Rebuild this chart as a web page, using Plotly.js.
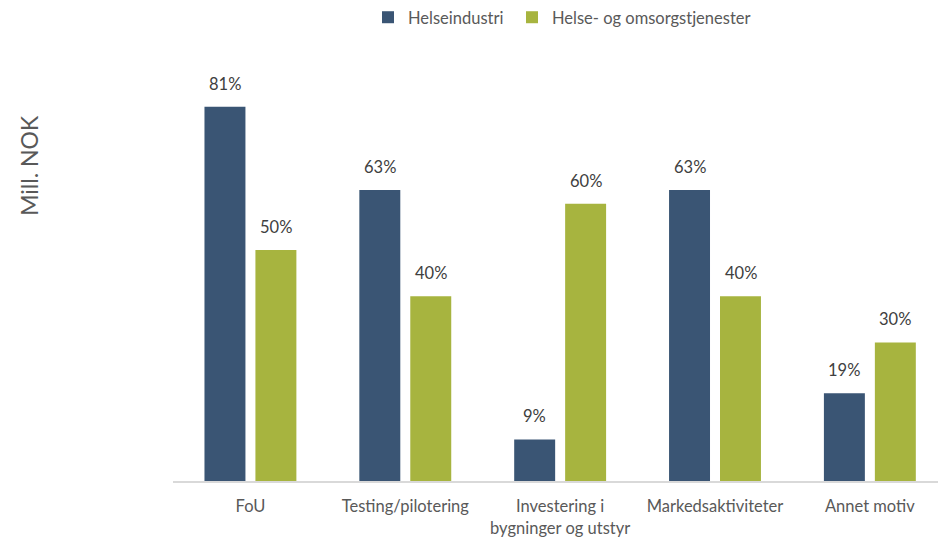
<!DOCTYPE html>
<html>
<head>
<meta charset="utf-8">
<script src="https://cdn.plot.ly/plotly-3.0.1.min.js"></script>
<style>html,body{margin:0;padding:0;background:#fff;}#chart{width:938px;height:539px;}</style>
</head>
<body>
<div id="chart"></div>
<script>
const categories = ["FoU", "Testing/pilotering", "Investering i<br>bygninger og utstyr", "Markedsaktiviteter", "Annet motiv"];
const helseindustri = [81, 63, 9, 63, 19];
const helseOmsorg = [50, 40, 60, 40, 30];
const seriesNames = ["Helseindustri", "Helse- og omsorgstjenester"];
const yTitle = "Mill. NOK";

const FONT = "Lato, 'Open Sans', sans-serif";
const blue = "#3A5574";
const green = "#A7B43F";

const traces = [
  {type: "bar", name: seriesNames[0], x: categories, y: helseindustri, marker: {color: blue}, hoverinfo: "none", legend: "legend"},
  {type: "bar", name: seriesNames[1], x: categories, y: helseOmsorg, marker: {color: green}, hoverinfo: "none", legend: "legend2"}
];

const annotations = [];
[helseindustri, helseOmsorg].forEach((vals, s) => {
  vals.forEach((v, i) => {
    annotations.push({
      x: categories[i], y: v, xref: "x", yref: "y",
      text: v + "%", showarrow: false,
      xshift: s === 0 ? -25.5 : 25.5,
      yanchor: "bottom", yshift: 11,
      font: {family: FONT, size: 16.5, color: "#404040"}
    });
  });
});
annotations.push({
  xref: "paper", yref: "paper", x: -0.188, y: 0.715,
  xanchor: "center", yanchor: "middle",
  text: yTitle, textangle: -90, showarrow: false,
  font: {family: FONT, size: 23, color: "#595959"}
});

const legendBase = {orientation: "h", xref: "container", xanchor: "left", y: 1, yref: "container", yanchor: "top",
                    font: {family: FONT, size: 16.5, color: "#595959"}, itemwidth: 30, tracegroupgap: 0};

const layout = {
  width: 938, height: 539,
  margin: {l: 172.5, r: 0, t: 40, b: 58},
  paper_bgcolor: "#fff", plot_bgcolor: "#fff",
  bargap: 0.342, bargroupgap: 0.196, barmode: "group",
  showlegend: true,
  legend: Object.assign({}, legendBase, {x: 368 / 938}),
  legend2: Object.assign({}, legendBase, {x: 512 / 938}),
  xaxis: {
    type: "category", range: [-0.5, 4.44], showline: true, linecolor: "#D9D9D9", linewidth: 1.5,
    ticks: "", showgrid: false, zeroline: false, ticklabelstandoff: 10,
    tickfont: {family: FONT, size: 16.5, color: "#595959"}, fixedrange: true
  },
  yaxis: {range: [0, 95.45], visible: false, showgrid: false, zeroline: false, fixedrange: true},
  annotations: annotations
};

Plotly.newPlot("chart", traces, layout, {staticPlot: true, displayModeBar: false});
</script>
</body>
</html>
